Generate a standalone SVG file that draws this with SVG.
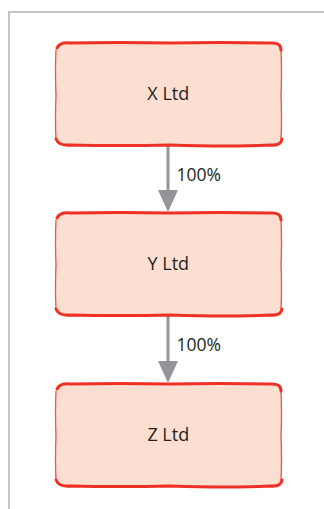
<svg xmlns="http://www.w3.org/2000/svg" width="324" height="509" viewBox="0 0 324 509">
<defs>
<style>
.frame{fill:none;stroke:#c4c5c7;stroke-width:2}
.box{fill:#fcdfd1;stroke:none}
.edgeH{fill:none;stroke:#ee3124;stroke-width:3;stroke-linecap:round}
.edgeV{fill:none;stroke:#ee3124;stroke-width:1.3;opacity:0.8}
.lbl{font-family:"Open Sans","Noto Sans",sans-serif;font-size:18px;fill:#231f20;text-anchor:middle}
.pct{font-family:"Open Sans","Noto Sans",sans-serif;font-size:17.5px;fill:#231f20}
.conn{stroke:#939598;stroke-width:3;fill:none}
</style>
</defs>
<rect width="324" height="509" fill="#ffffff"/>
<path class="frame" d="M9 520 L9 12 L330 12"/>
<g id="conns">
<line class="conn" x1="168" y1="146" x2="168" y2="190"/>
<path d="M158 190 L178 190 L168 212 Z" fill="#939598"/>
<text class="pct" x="176.5" y="180.5">100%</text>
<line class="conn" x1="168" y1="316" x2="168" y2="361"/>
<path d="M158 361 L178 361 L168 383 Z" fill="#939598"/>
<text class="pct" x="176.5" y="350.5">100%</text>
</g>
<g id="nodeX">
<rect class="box" x="55" y="42" width="227" height="104" rx="10"/>
<path class="edgeH" d="M57 48 Q60 42 70 43 Q120 42 170 43 Q220 42 270 43 Q281 42 281 50"/>
<path class="edgeH" d="M56 139 Q59 146 70 145 Q120 146 170 145 Q230 147 270 145 Q281 146 282 139"/>
<path class="edgeV" d="M56 50 Q55 70 56 95 Q55 120 56 139"/>
<path class="edgeV" d="M281 50 Q282 75 281 95 Q282 120 281 139"/>
<text class="lbl" x="168.3" y="99.5">X Ltd</text>
</g>
<g id="nodeY">
<rect class="box" x="55" y="212" width="227" height="104" rx="10"/>
<path class="edgeH" d="M57 218 Q60 212 70 213 Q120 212 170 213 Q220 212 270 213 Q281 212 281 220"/>
<path class="edgeH" d="M56 309 Q59 316 70 315 Q120 316 170 315 Q230 317 270 315 Q281 316 282 309"/>
<path class="edgeV" d="M56 220 Q55 240 56 265 Q55 290 56 309"/>
<path class="edgeV" d="M281 220 Q282 245 281 265 Q282 290 281 309"/>
<text class="lbl" x="168.3" y="269.5">Y Ltd</text>
</g>
<g id="nodeZ">
<rect class="box" x="55" y="383" width="227" height="104" rx="10"/>
<path class="edgeH" d="M57 389 Q60 383 70 384 Q120 383 170 384 Q220 383 270 384 Q281 383 281 391"/>
<path class="edgeH" d="M56 480 Q59 487 70 486 Q120 487 170 486 Q230 488 270 486 Q281 487 282 480"/>
<path class="edgeV" d="M56 391 Q55 411 56 436 Q55 461 56 480"/>
<path class="edgeV" d="M281 391 Q282 416 281 436 Q282 461 281 480"/>
<text class="lbl" x="168.3" y="440.5">Z Ltd</text>
</g>
</svg>
